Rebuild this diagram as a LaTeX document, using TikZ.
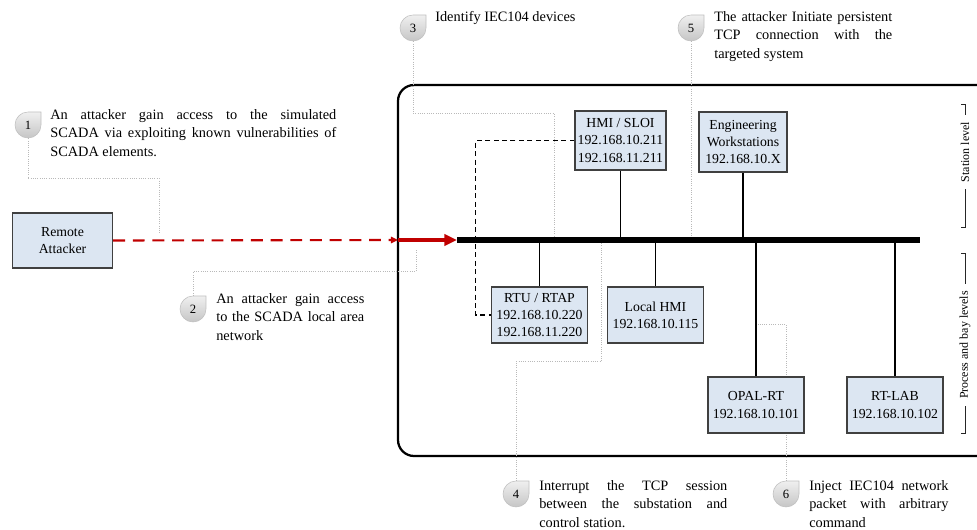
\documentclass[tikz,border=0pt]{standalone}
\usepackage{fontspec}
\setmainfont{Liberation Serif}
\usetikzlibrary{arrows.meta}
\definecolor{boxfill}{HTML}{DCE6F2}
\definecolor{boxline}{HTML}{404040}
\definecolor{attackred}{HTML}{C00000}
\tikzset{
  devbox/.style={draw=boxline, fill=boxfill, line width=0.8pt, align=center, inner sep=1pt,
    font=\fontsize{9.8}{12.3}\selectfont, minimum width=2.4cm, minimum height=1.4cm},
  link/.style={line width=1.3pt},
  bus/.style={line width=3.6pt},
  leader/.style={gray!55, line width=0.6pt, densely dotted},
  calltag/.style={circle, minimum size=0.65cm, inner sep=0pt, font=\fontsize{9}{10}\selectfont},
  calltext/.style={anchor=north west, align=justify, inner sep=0pt, font=\fontsize{10.2}{13.1}\selectfont},
  levelbrace/.style={line width=0.6pt, gray!30!black},
  leveltext/.style={rotate=90, fill=white, inner xsep=5pt, inner ysep=1pt, font=\fontsize{8.5}{10}\selectfont}
}
\newcommand{\callout}[3]{%
  \shade[top color=gray!12, bottom color=gray!45, draw=gray!50, line width=0.4pt]
    (#2) ++(13,0) arc[start angle=0, end angle=270, radius=13] -- ++(13,0) -- cycle;
  \node[calltag] (#1) at (#2) {#3};}

\begin{document}
\begin{tikzpicture}[x=0.025cm, y=-0.025cm]
  \useasboundingbox (0,0) rectangle (977,530);
  \clip (0,0) rectangle (977,530);
  \draw[line width=1.6pt, rounded corners=0.4cm] (398,85) rectangle (995,456);

  \coordinate (busL) at (457,240);
  \coordinate (busR) at (920,240);
  \coordinate (gate) at (398,240);

  % numbered steps of the attack
  \callout{m1}{28,125}{1}
  \callout{m2}{193,309}{2}
  \callout{m3}{413,28}{3}
  \callout{m4}{516,494}{4}
  \callout{m5}{691,28}{5}
  \callout{m6}{786,494}{6}
  \node[calltext, text width=7.15cm] (t1) at (50,109) {An attacker gain access to the simulated\linebreak SCADA via exploiting known vulnerabilities of\linebreak SCADA elements.};
  \node[calltext, text width=3.7cm] (t2) at (216,293) {An attacker gain access\linebreak to the SCADA local area\linebreak network};
  \node[anchor=north west, inner sep=0pt, font=\fontsize{10.2}{13.1}\selectfont] (t3) at (435,11) {Identify IEC104 devices};
  \node[calltext, text width=4.7cm] (t4) at (539,480) {Interrupt the TCP session\linebreak between the substation and\linebreak control station.};
  \node[calltext, text width=4.45cm] (t5) at (714,11) {The attacker Initiate persistent\linebreak TCP connection with the\linebreak targeted system};
  \node[calltext, text width=3.48cm] (t6) at (809,480) {Inject IEC104 network\linebreak packet with arbitrary\linebreak command};

  \coordinate (l1) at (159,233);
  \coordinate (l2) at (416,249);
  \coordinate (l3) at (554,237);
  \coordinate (l4) at (601,243);
  \coordinate (l5) at (691,237);
  \coordinate (l6) at (758,324);
  \draw[leader] (m1.south) -- ++(0,40) -| (l1);
  \draw[leader] (m2.north) -- ++(0,-24) -| (l2);
  \draw[leader] (m3.south) -- ++(0,72) -| (l3);
  \draw[leader] (m4.north) -- ++(0,-119) -| (l4);
  \draw[leader] (m5.south) -- (l5);
  \draw[leader] (m6.north) |- (l6);

  % devices
  \node[devbox, minimum width=2.5cm, minimum height=1.375cm] (attacker) at (62.5,240.5) {Remote\\Attacker};
  \node[devbox, minimum width=2.275cm, minimum height=1.475cm] (hmi) at (620.5,140.5) {HMI / SLOI\\192.168.10.211\\192.168.11.211};
  \node[devbox, minimum width=2.2cm, minimum height=1.5cm] (eng) at (743,142) {Engineering\\Workstations\\192.168.10.X};
  \node[devbox] (rtu) at (539.5,315) {RTU / RTAP\\192.168.10.220\\192.168.11.220};
  \node[devbox] (lhmi) at (655.5,315) {Local HMI\\192.168.10.115};
  \node[devbox] (opal) at (756,405) {OPAL-RT\\192.168.10.101};
  \node[devbox] (rtlab) at (895,405) {RT-LAB\\192.168.10.102};

  \foreach \n in {hmi,eng} \draw[link] (\n.south) -- (\n.south |- busL);
  \foreach \n in {rtu,lhmi,opal,rtlab} \draw[link] (\n.north |- busL) -- (\n.north);
  \draw[bus] (busL) -- (busR);
  \draw[line width=0.8pt, dash pattern=on 3.5pt off 2.5pt] (hmi.west) -- ++(-99,0) |- (rtu.west);

  % attack path
  \draw[attackred, line width=1.5pt, dash pattern=on 8.5pt off 5.5pt, -{Triangle[length=5pt,width=4.5pt]}] (attacker.east) -- (gate);
  \draw[attackred, line width=2.8pt, -{Triangle[length=9pt,width=8pt]}] (gate) -- (busL);

  % levels
  \draw[levelbrace] (961,104) -- (965,104) -- (965,227) -- (961,227);
  \node[leveltext] (station) at (965,152) {Station level};
  \draw[levelbrace] (961,253) -- (965,253) -- (965,433) -- (961,433);
  \node[leveltext] (process) at (965,345) {Process and bay levels};
\end{tikzpicture}
\end{document}
